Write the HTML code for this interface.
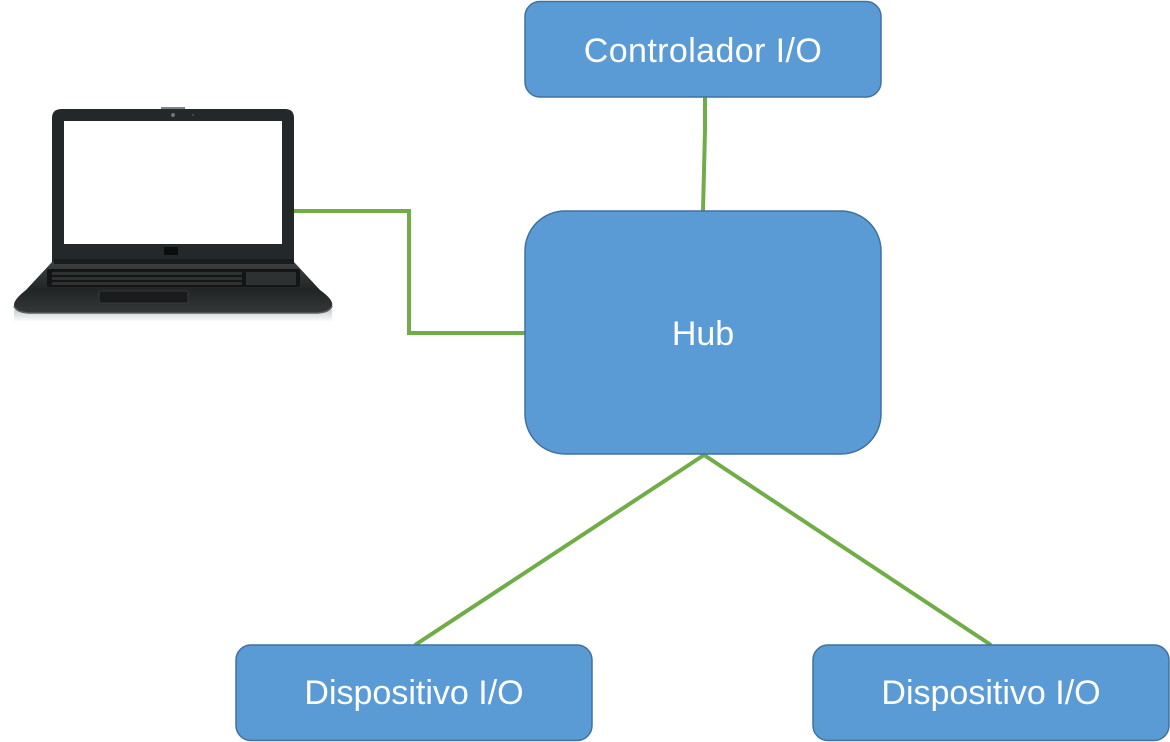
<!DOCTYPE html>
<html><head><meta charset="utf-8"><style>
html,body{margin:0;padding:0;background:#fff;}
svg{display:block;}
text{font-family:"Liberation Sans",sans-serif;font-size:34px;fill:#fff;}
</style></head><body>
<svg width="1170" height="742" viewBox="0 0 1170 742" xmlns="http://www.w3.org/2000/svg">
<defs>
<linearGradient id="base" x1="0" y1="0" x2="0" y2="1">
<stop offset="0" stop-color="#3c4042"/><stop offset="0.55" stop-color="#222526"/><stop offset="1" stop-color="#353839"/>
</linearGradient>
<linearGradient id="shadow" x1="0" y1="0" x2="0" y2="1">
<stop offset="0" stop-color="#c9d0d2"/><stop offset="1" stop-color="#ffffff"/>
</linearGradient>
</defs>
<!-- connectors -->
<g stroke="#70AD47" stroke-width="4" fill="none">
<path d="M293 211 H409 V333 H525"/>
<path d="M705 97 L705 130 L703 211"/>
<path d="M415 645 L704 455 L991 645"/>
</g>
<!-- laptop -->
<rect x="14" y="310" width="318" height="12" fill="url(#shadow)"/>
<path d="M52 262 H294 L320 290 Q334 300 332 306 Q330 312 318 313 H28 Q16 312 14 306 Q13 300 26 290 Z" fill="url(#base)"/>
<path d="M14 306 Q16 312 28 313 H318 Q330 312 332 306" stroke="#5a5f61" stroke-width="1.5" fill="none"/>
<rect x="47" y="269" width="253" height="18" rx="2" fill="#141616"/>
<g fill="#2e3132">
<rect x="52" y="272" width="190" height="3"/>
<rect x="52" y="277" width="190" height="3"/>
<rect x="52" y="282" width="190" height="3"/>
<rect x="246" y="272" width="50" height="13"/>
</g>
<rect x="99" y="291" width="89" height="12" rx="1" fill="#1a1c1c" stroke="#3e4244" stroke-width="0.8"/>
<path d="M52 262 V118 Q52 109 62 109 H285 Q294 109 294 118 V262 Z" fill="#23292b"/>
<rect x="54" y="259" width="240" height="5" fill="#1a1d1e"/>
<rect x="64" y="121" width="218" height="123" fill="#ffffff"/>
<rect x="161" y="107" width="24" height="2" fill="#7c8486"/>
<circle cx="173" cy="115" r="2" fill="#6c7678"/>
<circle cx="193" cy="115" r="1" fill="#4a5254"/>
<rect x="164" y="247" width="14" height="8" fill="#0c0d0d"/>
<!-- boxes -->
<g fill="#5B9BD5" stroke="#41719C" stroke-width="1.5">
<rect x="525" y="1.5" width="356" height="95.5" rx="15"/>
<rect x="525" y="211" width="356" height="243" rx="40"/>
<rect x="236" y="645" width="356" height="95.5" rx="15"/>
<rect x="813" y="645" width="356" height="95.5" rx="15"/>
</g>
<text x="703" y="62" text-anchor="middle" letter-spacing="0.4">Controlador I/O</text>
<text x="703" y="345" text-anchor="middle">Hub</text>
<text x="414" y="704" text-anchor="middle">Dispositivo I/O</text>
<text x="991" y="704" text-anchor="middle">Dispositivo I/O</text>
</svg>
</body></html>
